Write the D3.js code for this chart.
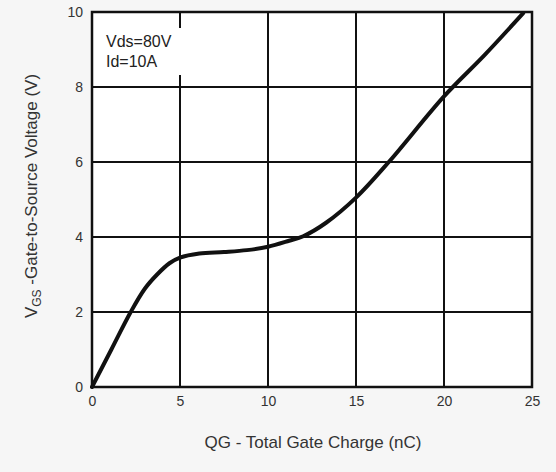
<!DOCTYPE html>
<html>
<head>
<meta charset="utf-8">
<script src="https://cdn.jsdelivr.net/npm/d3@7"></script>
<style>
  body { margin: 0; background: #f6f6f6; }
  svg { display: block; font-family: "Liberation Sans", Arial, sans-serif; }
</style>
</head>
<body>
<svg id="chart" width="556" height="472"></svg>
<script>
// data (QG nC, VGS V)
qg  = [0, 1.1, 2.2, 3.0, 3.7, 4.4, 5, 6.1, 7.5, 8.8, 10, 11.2, 12, 13.3, 15, 16.9, 20, 22.3, 24.5]
vgs = [0, 1.0, 2.0, 2.62, 3.0, 3.3, 3.45, 3.56, 3.6, 3.65, 3.74, 3.9, 4.02, 4.38, 5.05, 6.02, 7.75, 8.85, 9.97]
xTicks = [0, 5, 10, 15, 20, 25]
yTicks = [0, 2, 4, 6, 8, 10]
notes  = ['Vds=80V', 'Id=10A']

svg = d3.select('#chart')
margins = { top: 12, left: 92, right: 24, bottom: 85 }
ancho = 556 - margins.left - margins.right
alto  = 472 - margins.top - margins.bottom

fx = d3.scaleLinear().domain([0, 25]).range([0, ancho])
fy = d3.scaleLinear().domain([0, 10]).range([alto, 0])

g = svg.append('g').attr('transform', `translate(${margins.left},${margins.top})`)

g.append('rect').attr('width', ancho).attr('height', alto).attr('fill', '#fff')

// grid
g.selectAll('.vgrid').data(xTicks.slice(1, -1)).enter()
  .append('line')
  .attr('x1', d => fx(d)).attr('x2', d => fx(d))
  .attr('y1', 0).attr('y2', alto)
  .attr('stroke', '#111').attr('stroke-width', 2)
g.selectAll('.hgrid').data(yTicks.slice(1, -1)).enter()
  .append('line')
  .attr('y1', d => fy(d)).attr('y2', d => fy(d))
  .attr('x1', 0).attr('x2', ancho)
  .attr('stroke', '#111').attr('stroke-width', 2)

// note box (covers the grid behind it)
g.append('rect')
  .attr('x', 8).attr('y', 16).attr('width', 100).attr('height', 47)
  .attr('fill', '#fff')
g.selectAll('.note').data(notes).enter()
  .append('text')
  .attr('x', 14).attr('y', (d, i) => 35 + i * 20)
  .attr('font-size', 16).attr('fill', '#222')
  .text(d => d)

// curve
line = d3.line().x((d, i) => fx(qg[i])).y(d => fy(d)).curve(d3.curveCatmullRom.alpha(0.5))
g.append('path').datum(vgs)
  .attr('d', line)
  .attr('fill', 'none').attr('stroke', '#111').attr('stroke-width', 4)
  .attr('stroke-linecap', 'round')

// border
g.append('rect').attr('width', ancho).attr('height', alto)
  .attr('fill', 'none').attr('stroke', '#111').attr('stroke-width', 2.5)

// axes
xAxis = d3.axisBottom(fx).tickValues(xTicks).tickSize(0).tickPadding(9)
yAxis = d3.axisLeft(fy).tickValues(yTicks).tickSize(0).tickPadding(9)
gx = g.append('g').attr('transform', `translate(0,${alto})`).call(xAxis)
gy = g.append('g').call(yAxis)
;[gx, gy].forEach(a => {
  a.select('.domain').remove()
  a.selectAll('text').attr('font-size', 14).attr('fill', '#333')
    .attr('font-family', '"Liberation Sans", Arial, sans-serif')
})

svg.append('text')
  .attr('x', 313).attr('y', 448)
  .attr('text-anchor', 'middle').attr('font-size', 17).attr('fill', '#333')
  .text('QG - Total Gate Charge (nC)')

yt = svg.append('text')
  .attr('transform', 'translate(37,196) rotate(-90)')
  .attr('text-anchor', 'middle').attr('font-size', 17).attr('fill', '#333')
yt.append('tspan').text('V')
yt.append('tspan').attr('font-size', 12).attr('dy', 4).text('GS')
yt.append('tspan').attr('dy', -4).text(' -Gate-to-Source Voltage (V)')
</script>
</body>
</html>
